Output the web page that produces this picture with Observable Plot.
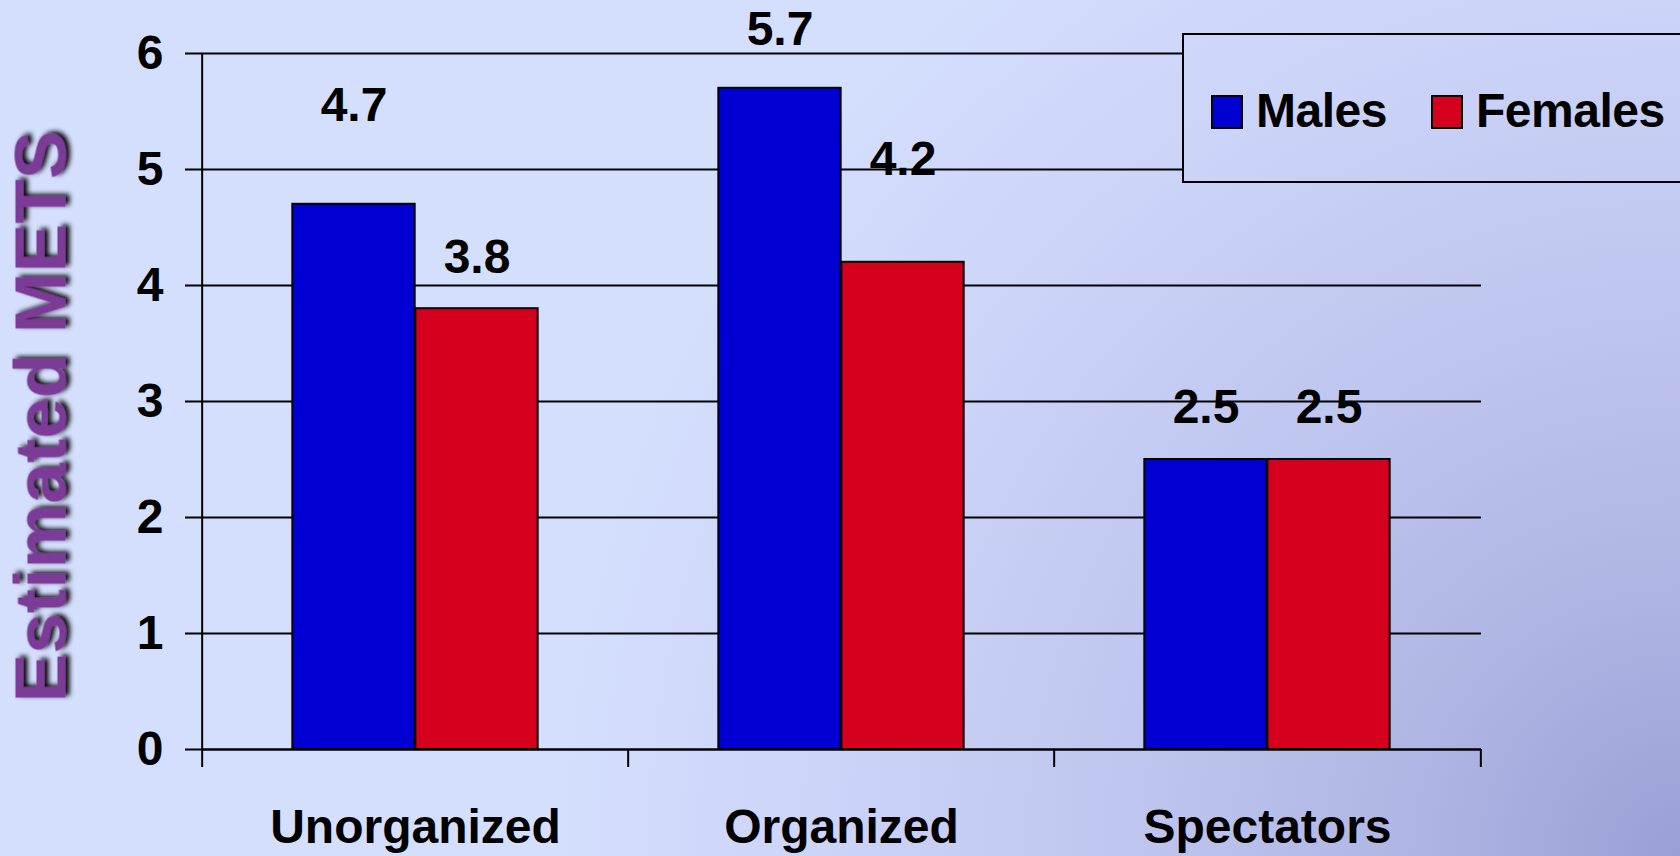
<!DOCTYPE html>
<html>
<head>
<meta charset="utf-8">
<script src="https://cdn.jsdelivr.net/npm/d3@7"></script>
<script src="https://cdn.jsdelivr.net/npm/@observablehq/plot@0.6"></script>
<style>
  html, body {
    margin: 0;
    padding: 0;
    width: 1680px;
    height: 856px;
    overflow: hidden;
  }
  .bg {
    background: radial-gradient(circle at 100% 100%, #9aa0d4 0px, #b2b8e6 310px, #c2c9f1 620px, #ccd4f8 860px, #d4defd 1120px);
    background-attachment: fixed;
  }
  #wrap { position: relative; width: 1680px; height: 856px; }
  #chart svg { display: block; }
  #legend {
    position: absolute;
    left: 1182px;
    top: 33px;
    width: 520px;
    height: 146px;
    border: 2px solid #000;
    font-family: "Liberation Sans", Arial, sans-serif;
    font-weight: bold;
    font-size: 48px;
    letter-spacing: -0.5px;
    color: #000;
  }
  #legend .sw {
    position: absolute;
    top: 60px;
    width: 28px;
    height: 30px;
    border: 2px solid #000;
  }
  #legend .lb {
    position: absolute;
    top: 48px;
    line-height: 56px;
    white-space: nowrap;
  }
</style>
</head>
<body class="bg">
<div id="wrap">
  <div id="chart"></div>
  <div id="legend" class="bg"></div>
</div>
<script>
// Estimated METS by activity group and sex
const categories = ["Unorganized", "Organized", "Spectators"];
const series = ["Males", "Females"];
const males = [4.7, 5.7, 2.5];
const females = [3.8, 4.2, 2.5];
const yTicks = [0, 1, 2, 3, 4, 5, 6];
const seriesColors = ["#0000d2", "#d4001e"];

const rows = categories.flatMap((c, i) => [
  {category: c, sex: "Males", value: males[i]},
  {category: c, sex: "Females", value: females[i]}
]);

// layout
const W = 1680, H = 856;
const mL = 201, mR = 199, mT = 53, mB = 107;
const band = (W - mL - mR) / categories.length;
const barW = 123;
const font = "Liberation Sans, Arial, sans-serif";

// vertical lift (px) of each value label above its bar top, per series
const lift = {
  Males: [99, 59, 52],
  Females: [51, 103, 52]
};

const labelMarks = rows.map(r => {
  const i = categories.indexOf(r.category);
  return Plot.text([r], {
    x: "category",
    y: "value",
    text: d => d.value.toFixed(1),
    dx: r.sex === "Males" ? -barW / 2 : barW / 2,
    dy: -lift[r.sex][i],
    fontSize: 48,
    fontWeight: "bold",
    fill: "#000",
    lineAnchor: "middle",
    textAnchor: "middle"
  });
});

const chart = Plot.plot({
  width: W,
  height: H,
  marginLeft: mL,
  marginRight: mR,
  marginTop: mT,
  marginBottom: mB,
  style: {background: "transparent", fontFamily: font, overflow: "visible"},
  x: {domain: categories, padding: 0, label: null, axis: null},
  y: {domain: [0, 6], label: null, axis: null},
  color: {domain: series, range: seriesColors},
  marks: [
    Plot.gridY(yTicks, {stroke: "#000", strokeOpacity: 1, strokeWidth: 2}),
    Plot.barY(rows.filter(d => d.sex === "Males"), {
      x: "category", y: "value", fill: "sex",
      stroke: "#000", strokeWidth: 2,
      insetLeft: band / 2 - barW, insetRight: band / 2
    }),
    Plot.barY(rows.filter(d => d.sex === "Females"), {
      x: "category", y: "value", fill: "sex",
      stroke: "#000", strokeWidth: 2,
      insetLeft: band / 2, insetRight: band / 2 - barW
    }),
    Plot.ruleY([0], {stroke: "#000", strokeWidth: 2}),
    // value axis line along the left edge of the first category
    Plot.ruleX([categories[0]], {
      x: d => d, y1: 0, y2: 6, dx: -band / 2,
      stroke: "#000", strokeWidth: 2
    }),
    Plot.axisY({
      ticks: yTicks, tickSize: 16, tickPadding: 22,
      stroke: "#000", strokeWidth: 2, fill: "#000",
      fontSize: 48, fontWeight: "bold", tickFormat: d => String(d)
    }),
    // category boundary ticks
    Plot.axisX({tickSize: 18, strokeWidth: 2, stroke: "#000", tickFormat: () => "", dx: -band / 2}),
    Plot.axisX({ticks: [categories[categories.length - 1]], tickSize: 18, strokeWidth: 2, stroke: "#000", tickFormat: () => "", dx: band / 2}),
    // category names
    Plot.axisX({tickSize: 0, tickPadding: 59, fontSize: 48, fontWeight: "bold", fill: "#000"}),
    // axis title
    Plot.text(["Estimated METS"], {
      text: d => d,
      frameAnchor: "left",
      rotate: -90,
      dx: -159,
      dy: 15,
      fontSize: 73,
      fontWeight: "bold",
      fill: "#7b3a97",
      lineAnchor: "middle",
      textAnchor: "middle"
    }),
    ...labelMarks
  ]
});

document.getElementById("chart").appendChild(chart);

// soft dark shadow behind the axis title
const svg = d3.select(chart);
const defs = svg.insert("defs", ":first-child");
const f = defs.append("filter").attr("id", "title-shadow")
  .attr("x", "-10%").attr("y", "-30%").attr("width", "130%").attr("height", "180%");
f.append("feGaussianBlur").attr("in", "SourceAlpha").attr("stdDeviation", 2.6).attr("result", "b");
f.append("feOffset").attr("in", "b").attr("dx", 2).attr("dy", 4).attr("result", "o");
f.append("feFlood").attr("flood-color", "#000000").attr("flood-opacity", 1).attr("result", "c");
f.append("feComposite").attr("in", "c").attr("in2", "o").attr("operator", "in").attr("result", "s");
const m = f.append("feMerge");
m.append("feMergeNode").attr("in", "s");
m.append("feMergeNode").attr("in", "SourceGraphic");
svg.selectAll("text")
  .filter(function () { return this.textContent === "Estimated METS"; })
  .attr("filter", "url(#title-shadow)");

// legend
const legend = d3.select("#legend");
const swX = [27, 247];
const lbX = [72, 292];
series.forEach((s, i) => {
  legend.append("div").attr("class", "sw")
    .style("left", swX[i] + "px")
    .style("background", seriesColors[i]);
  legend.append("div").attr("class", "lb")
    .style("left", lbX[i] + "px")
    .text(s);
});
</script>
</body>
</html>
